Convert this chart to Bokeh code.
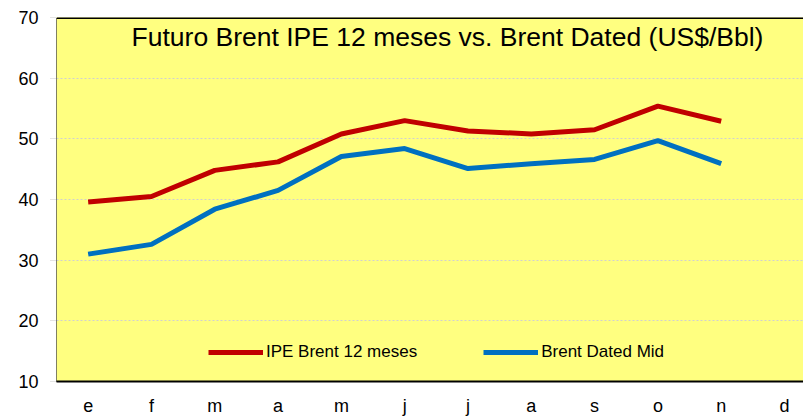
from bokeh.plotting import figure
from bokeh.models import Range1d, FixedTicker, Legend, LegendItem, Label, Span
from bokeh.embed import file_html
from bokeh.resources import INLINE

months = ["e", "f", "m", "a", "m", "j", "j", "a", "s", "o", "n", "d"]
ipe_brent_12m = [39.6, 40.5, 44.8, 46.2, 50.8, 53.0, 51.3, 50.8, 51.5, 55.4, 52.9]
brent_dated_mid = [31.0, 32.6, 38.4, 41.5, 47.1, 48.4, 45.1, 45.9, 46.6, 49.7, 45.9]
y_ticks = [10, 20, 30, 40, 50, 60, 70]
title_text = "Futuro Brent IPE 12 meses vs. Brent Dated (US$/Bbl)"

FONT = "Liberation Sans"
xs = [i + 0.5 for i in range(len(months))]

p = figure(width=803, height=418, output_backend="svg", toolbar_location=None,
           x_range=Range1d(0, 11.8), y_range=Range1d(10, 70),
           min_border_left=56, min_border_right=0, min_border_top=17, min_border_bottom=37)
p.background_fill_color = "#FFFF80"
p.border_fill_color = "white"
p.outline_line_color = None

r1 = p.line(xs[:len(ipe_brent_12m)], ipe_brent_12m, line_color="#C00000", line_width=5)
r2 = p.line(xs[:len(brent_dated_mid)], brent_dated_mid, line_color="#0070C0", line_width=5)

# axes
p.xaxis.ticker = FixedTicker(ticks=xs)
p.xaxis.major_label_overrides = {x: m for x, m in zip(xs, months)}
p.xaxis.major_tick_out = 0
p.xaxis.major_tick_in = 0
p.xaxis.minor_tick_out = 0
p.xaxis.minor_tick_in = 0
p.xaxis.axis_line_color = "black"
p.xaxis.axis_line_width = 2
p.xaxis.major_label_standoff = 14
p.xaxis.major_label_text_font = FONT
p.xaxis.major_label_text_font_size = "18px"
p.xaxis.major_label_text_color = "black"

p.yaxis.ticker = FixedTicker(ticks=y_ticks)
p.yaxis.axis_line_color = "black"
p.yaxis.axis_line_dash = "1 1"
p.yaxis.major_tick_out = 6
p.yaxis.major_tick_in = 0
p.yaxis.minor_tick_out = 0
p.yaxis.minor_tick_in = 0
p.yaxis.major_tick_line_color = "#C8C8C8"
p.yaxis.major_tick_line_dash = "1 1"
p.yaxis.major_label_standoff = 12
p.yaxis.major_label_text_font = FONT
p.yaxis.major_label_text_font_size = "18px"
p.yaxis.major_label_text_color = "black"

p.xgrid.grid_line_color = None
p.ygrid.grid_line_color = "#D0D0D0"
p.ygrid.grid_line_dash = "2 2"
p.ygrid.grid_line_width = 1

p.add_layout(Span(location=70, dimension="width", line_color="black", line_width=3))

# screen units are measured from the frame's bottom-left corner
p.add_layout(Label(x=447 - 56, y=381 - 36, x_units="screen", y_units="screen",
                   text=title_text, text_font=FONT, text_font_size="26.5px",
                   text_align="center", text_baseline="middle", text_color="black"))

legend = Legend(items=[LegendItem(label="IPE Brent 12 meses", renderers=[r1]),
                       LegendItem(label="Brent Dated Mid", renderers=[r2])],
                orientation="horizontal", location=(152, 19),
                glyph_width=55, glyph_height=20, label_height=20,
                label_standoff=3, spacing=66, padding=0, margin=0,
                border_line_color=None, background_fill_alpha=0,
                label_text_font=FONT, label_text_font_size="17px",
                label_text_color="black")
p.add_layout(legend)

open("out.html", "w").write(file_html(p, INLINE))
